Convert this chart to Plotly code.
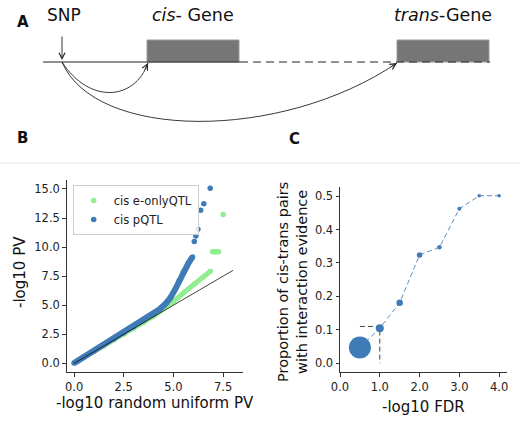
import plotly.graph_objects as go

W, H = 520, 423
FONT = "DejaVu Sans"
BLUE = "#3f7bb6"
GREEN = "#90ee90"
AX = "#333333"

# ---------------- Panel B data (QQ plot) ----------------
eonly_x = [0.0, 0.5, 1.0, 1.5, 2.0, 2.5, 3.0, 3.5, 4.0, 4.5, 5.0, 5.5, 6.0, 6.5, 6.87]
eonly_y = [0.0, 0.5, 1.0, 1.5, 2.0, 2.5, 3.0, 3.5, 4.05, 4.7, 5.3, 6.05, 6.75, 7.4, 7.94]
eonly_out_x = [6.97, 7.05, 7.12, 7.2, 7.27, 7.5]
eonly_out_y = [9.6, 9.6, 9.6, 9.6, 9.6, 12.8]

pqtl_x = [0.0, 0.5, 1.0, 1.5, 2.0, 2.5, 3.0, 3.5, 4.0, 4.3, 4.6, 4.85, 5.1, 5.3, 5.5, 5.75, 5.96]
pqtl_y = [0.02, 0.55, 1.07, 1.6, 2.12, 2.64, 3.16, 3.7, 4.25, 4.65, 5.12, 5.65, 6.4, 7.15, 7.85, 8.6, 9.15]
pqtl_out_x = [6.05, 6.13, 6.23, 6.37, 6.53, 6.85]
pqtl_out_y = [10.47, 10.95, 11.53, 13.17, 13.73, 15.06]

ref_x = [0, 8]
ref_y = [0, 8]

b_xticks = [0.0, 2.5, 5.0, 7.5]
b_yticks = [0.0, 2.5, 5.0, 7.5, 10.0, 12.5, 15.0]

# ---------------- Panel C data ----------------
fdr_x = [0.5, 1.0, 1.5, 2.0, 2.5, 3.0, 3.5, 4.0]
prop_y = [0.047, 0.105, 0.181, 0.324, 0.347, 0.462, 0.501, 0.501]
prop_size = [22, 8, 6.5, 5.5, 4.5, 4, 3.5, 3.5]
thr_x = [0.5, 1.0, 1.0]
thr_y = [0.11, 0.11, 0.0]
c_xticks = [0.0, 1.0, 2.0, 3.0, 4.0]
c_yticks = [0.0, 0.1, 0.2, 0.3, 0.4, 0.5]


def px(x):
    return x / W


def py(y):
    return 1 - y / H


fig = go.Figure()

# Panel B traces
fig.add_trace(go.Scatter(x=eonly_x, y=eonly_y, mode="lines+markers", xaxis="x", yaxis="y",
                         line=dict(color=GREEN, width=5), marker=dict(color=GREEN, size=5, opacity=1),
                         showlegend=False, hoverinfo="skip"))
fig.add_trace(go.Scatter(x=eonly_out_x, y=eonly_out_y, mode="markers", xaxis="x", yaxis="y",
                         marker=dict(color=GREEN, size=5.5, opacity=1), name="cis e-onlyQTL"))
fig.add_trace(go.Scatter(x=pqtl_x, y=pqtl_y, mode="lines+markers", xaxis="x", yaxis="y",
                         line=dict(color=BLUE, width=6), marker=dict(color=BLUE, size=5.5, opacity=1),
                         showlegend=False, hoverinfo="skip"))
fig.add_trace(go.Scatter(x=pqtl_out_x, y=pqtl_out_y, mode="markers", xaxis="x", yaxis="y",
                         marker=dict(color=BLUE, size=5.5, opacity=1), name="cis pQTL"))
fig.add_trace(go.Scatter(x=ref_x, y=ref_y, mode="lines", xaxis="x", yaxis="y",
                         line=dict(color="#111111", width=0.8), showlegend=False, hoverinfo="skip"))

# Panel C traces
fig.add_trace(go.Scatter(x=thr_x, y=thr_y, mode="lines", xaxis="x2", yaxis="y2",
                         line=dict(color="#444444", width=1, dash="5px,3px"),
                         showlegend=False, hoverinfo="skip"))
fig.add_trace(go.Scatter(x=fdr_x, y=prop_y, mode="lines+markers", xaxis="x2", yaxis="y2",
                         line=dict(color="#5a8fc2", width=1, dash="5px,3px"),
                         marker=dict(color=BLUE, size=prop_size, opacity=1, line=dict(width=0)),
                         showlegend=False))

axis_common = dict(showline=True, linecolor=AX, linewidth=1, ticks="outside", ticklen=3.5,
                   tickcolor=AX, showgrid=False, zeroline=False, automargin=False,
                   tickfont=dict(family=FONT, size=11.5, color="#222222"))

fig.update_layout(
    width=W, height=H, margin=dict(l=0, r=0, t=0, b=0, pad=0, autoexpand=False),
    paper_bgcolor="white", plot_bgcolor="white",
    font=dict(family=FONT, color="#111111"),
    xaxis=dict(domain=[px(66.7), px(243)], range=[-0.37, 8.5], anchor="y",
               tickvals=b_xticks, ticktext=[f"{v:.1f}" for v in b_xticks], **axis_common),
    yaxis=dict(domain=[py(372.3), py(180)], range=[-0.77, 15.77], anchor="x",
               tickvals=b_yticks, ticktext=[f"{v:.1f}" for v in b_yticks], **axis_common),
    xaxis2=dict(domain=[px(340), px(506.7)], range=[0, 4.19], anchor="y2",
                tickvals=c_xticks, ticktext=[f"{v:.1f}" for v in c_xticks], **axis_common),
    yaxis2=dict(domain=[py(372.3), py(186.7)], range=[-0.027, 0.528], anchor="x2",
                tickvals=c_yticks, ticktext=[f"{v:.1f}" for v in c_yticks], **axis_common),
    legend=dict(x=px(72.7), y=py(185), xanchor="left", yanchor="top",
                bgcolor="rgba(255,255,255,0.85)", bordercolor="#cccccc", borderwidth=1,
                font=dict(family=FONT, size=11.5, color="#222222"),
                tracegroupgap=0, itemsizing="trace"),
    showlegend=True,
)

# ---------------- Panel A schematic ----------------
shapes = []
line_y = 62
shapes.append(dict(type="line", xref="paper", yref="paper", x0=px(43), x1=px(240), y0=py(line_y), y1=py(line_y),
                   line=dict(color="#222222", width=1)))
shapes.append(dict(type="line", xref="paper", yref="paper", x0=px(240), x1=px(490), y0=py(line_y), y1=py(line_y),
                   line=dict(color="#222222", width=1, dash="8px,5px")))
for x0, x1 in [(147, 239), (397, 489)]:
    shapes.append(dict(type="rect", xref="paper", yref="paper", x0=px(x0), x1=px(x1), y0=py(line_y), y1=py(40),
                       fillcolor="#767676", line=dict(color="#9a9a9a", width=1), layer="below"))


def path(pts):
    (x0, y0), (c1x, c1y), (c2x, c2y), (x3, y3) = pts
    return (f"M {px(x0)} {py(y0)} C {px(c1x)} {py(c1y)} {px(c2x)} {py(c2y)} {px(x3)} {py(y3)}")


shapes.append(dict(type="path", xref="paper", yref="paper",
                   path=path([(62, 62), (90, 105), (135, 100), (148, 63)]),
                   line=dict(color="#222222", width=0.9)))
shapes.append(dict(type="path", xref="paper", yref="paper",
                   path=path([(62, 62), (95, 140), (280, 142), (397, 63)]),
                   line=dict(color="#222222", width=0.9)))
shapes.append(dict(type="line", xref="paper", yref="paper", x0=0, x1=1, y0=py(163), y1=py(163),
                   line=dict(color="#e6e6e6", width=1)))
fig.update_layout(shapes=shapes)

ann = []


def text(x, y, s, size, bold=False, **kw):
    d = dict(xref="paper", yref="paper", x=px(x), y=py(y), text=s, showarrow=False,
             font=dict(family=FONT, size=size, color="#111111"), xanchor="center", yanchor="middle")
    if bold:
        d["text"] = f"<b>{s}</b>"
    d.update(kw)
    ann.append(d)


text(23, 22, "A", 15, bold=True)
text(64, 15, "SNP", 17)
text(193, 15, "<i>cis</i>- Gene", 17.5)
text(443, 15, "<i>trans</i>-Gene", 17.5)
text(22, 138, "B", 15, bold=True)
text(294, 139, "C", 15, bold=True)
text(20, 272, "-log10 PV", 15, textangle=-90)
text(155, 403, "-log10 random uniform PV", 15)
text(423, 407, "-log10 FDR", 15)
text(292, 282, "Proportion of cis-trans pairs<br>with interaction evidence", 14.5, textangle=-90)

for hx, hy, ax, ay in [(62, 60, 0, -25), (148, 63, -4, 8), (397, 63, -8, 5)]:
    ann.append(dict(xref="paper", yref="paper", x=px(hx), y=py(hy), text="", showarrow=True,
                    ax=ax, ay=ay, arrowhead=5, arrowsize=1.3, arrowwidth=0.9, arrowcolor="#222222"))

fig.update_layout(annotations=ann)

fig.write_html("out.html", config={"displayModeBar": False},
               post_script="document.body.style.margin='0';document.body.style.padding='0';"
                           "document.body.style.overflow='hidden';")
